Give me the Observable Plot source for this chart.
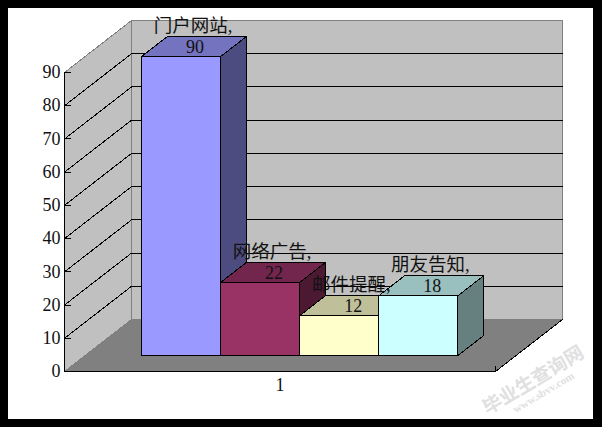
<!DOCTYPE html>
<html>
<head>
<meta charset="utf-8">
<script src="https://cdn.jsdelivr.net/npm/d3@7"></script>
<script src="https://cdn.jsdelivr.net/npm/@observablehq/plot@0.6"></script>
<style>
html,body{margin:0;padding:0;background:#000;width:602px;height:427px;overflow:hidden}
#c{position:absolute;left:8px;top:8px;width:585px;height:411px;overflow:hidden;background:#fff}
</style>
</head>
<body>
<div id="c"></div>
<script>
const categories = ["门户网站,", "网络广告,", "邮件提醒,", "朋友告知,"];
const values = [90, 22, 12, 18];
const frontColors = ["#9999FF", "#993366", "#FFFFCC", "#CCFFFF"];
const topColors = ["#7373BF", "#73264D", "#BFBF99", "#99BFBF"];
const sideColors = ["#4C4C80", "#4C1933", "#808066", "#668080"];
const yTicks = [0, 10, 20, 30, 40, 50, 60, 70, 80, 90];
const xTickLabel = "1";
const watermark = "毕业生查询网";
const watermarkUrl = "www.sbvv.com";

// oblique projection: z 0 = front of floor, 1 = back wall
const XMAX = 5.46, YMAX = 90, DX = 0.849, DY = 15.65;
const GAP = 0.715, BAR = 1.002, Z0 = 0.308, Z1 = 0.692;
const P = (x, v, z) => [x + z * DX, v + z * DY];
const serif = '"Liberation Serif","Noto Sans CJK SC",serif';
const ink = "#111";

const poly = (pts, fill, stroke, strokeWidth = 1) =>
  Plot.line([...pts, pts[0]], {x: d => d[0], y: d => d[1], fill, stroke, strokeWidth, shapeRendering: "crispEdges"});
const seg = (a, b, stroke) =>
  Plot.line([a, b], {x: d => d[0], y: d => d[1], stroke, strokeWidth: 1, shapeRendering: "crispEdges"});

const marks = [];
// walls and floor
marks.push(poly([P(0, 0, 0), P(0, YMAX, 0), P(0, YMAX, 1), P(0, 0, 1)], "#C0C0C0", "#808080"));
marks.push(poly([P(0, 0, 1), P(0, YMAX, 1), P(XMAX, YMAX, 1), P(XMAX, 0, 1)], "#C0C0C0", "#808080"));
marks.push(poly([P(0, 0, 0), P(XMAX, 0, 0), P(XMAX, 0, 1), P(0, 0, 1)], "#808080", "none"));
// gridlines
for (const t of yTicks.slice(1, -1)) {
  marks.push(seg(P(0, t, 0), P(0, t, 1), "#000"));
  marks.push(seg(P(0, t, 1), P(XMAX, t, 1), "#000"));
}
// axes lines and small ticks
marks.push(seg(P(0, 0, 0), P(0, YMAX, 0), "#000"));
marks.push(seg(P(0, 0, 0), P(XMAX, 0, 0), "#000"));
marks.push(seg(P(XMAX, 0, 0), P(XMAX, 0, 1), "#000"));
marks.push(seg(P(XMAX, 0, 0), P(XMAX, 1.5, 0), "#000"));
for (const t of yTicks) marks.push(seg(P(0, t, 0), P(0.08, t, 0), "#000"));
// bars
values.forEach((v, i) => {
  const a = GAP + i * BAR, b = a + BAR;
  marks.push(poly([P(b, 0, Z0), P(b, 0, Z1), P(b, v, Z1), P(b, v, Z0)], sideColors[i], "#000"));
  marks.push(poly([P(a, v, Z0), P(b, v, Z0), P(b, v, Z1), P(a, v, Z1)], topColors[i], "#000"));
  marks.push(poly([P(a, 0, Z0), P(b, 0, Z0), P(b, v, Z0), P(a, v, Z0)], frontColors[i], "#000"));
});
// axes text
marks.push(Plot.axisY({ticks: yTicks, tickSize: 0, tickPadding: 4, label: null, fontSize: 18, fill: ink, anchor: "left"}));
marks.push(Plot.axisX({ticks: [XMAX / 2], tickFormat: () => xTickLabel, tickSize: 0, tickPadding: 7, label: null, fontSize: 18, fill: ink, anchor: "bottom"}));
// data labels, anchored at the centre of each bar's top face
const idx = values.map((v, i) => i);
const lx = i => P(GAP + (i + 0.5) * BAR, values[i], 0.5)[0];
const ly = i => P(GAP + (i + 0.5) * BAR, values[i], 0.5)[1];
marks.push(Plot.text(idx, {x: lx, y: ly, text: i => categories[i], dx: -1, dy: -20.5, fontSize: 18.5, fill: ink}));
marks.push(Plot.text(idx, {x: lx, y: ly, text: i => String(values[i]), dx: 1, dy: 1, fontSize: 18, fill: ink}));
// watermark
marks.push(Plot.text([watermark], {x: 5.94, y: -2.7, text: d => d, rotate: -31, fontSize: 19, fontWeight: "bold", fill: "#e0e0e0"}));
marks.push(Plot.text([watermarkUrl], {x: 6.07, y: -6.3, text: d => d, rotate: -31, fontSize: 11, fontWeight: "bold", letterSpacing: "3px", fill: "#e0e0e0"}));

const chart = Plot.plot({
  width: 585,
  height: 411,
  marginLeft: 56,
  marginRight: 98,
  marginTop: 64,
  marginBottom: 48,
  style: {fontFamily: serif, fontSize: "17px", background: "#fff", overflow: "hidden"},
  x: {domain: [0, XMAX], axis: null},
  y: {domain: [0, YMAX], axis: null},
  marks
});
document.getElementById("c").append(chart);
</script>
</body>
</html>
